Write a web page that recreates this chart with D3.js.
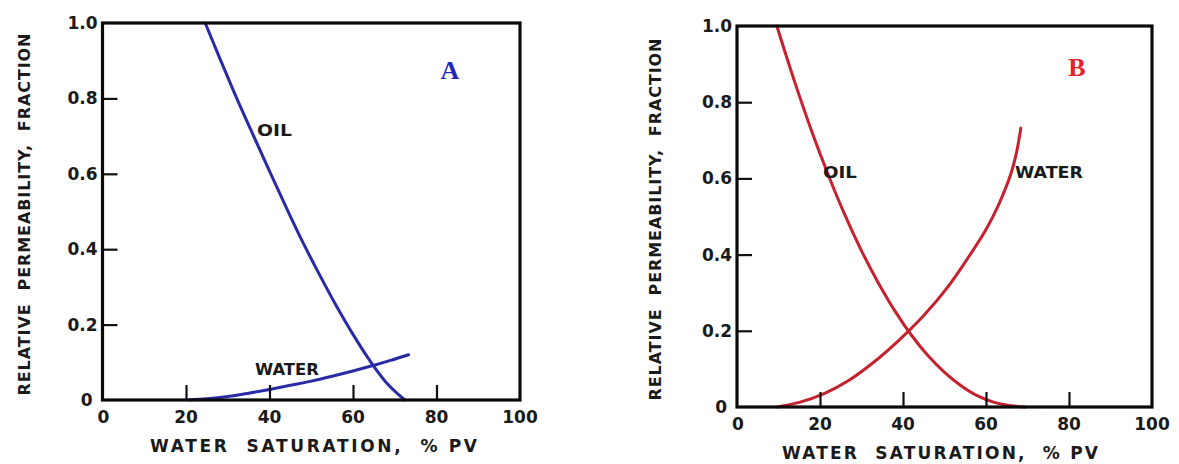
<!DOCTYPE html>
<html>
<head>
<meta charset="utf-8">
<script src="https://cdn.jsdelivr.net/npm/d3@7"></script>
<style>
  html, body { margin: 0; padding: 0; background: #fff; }
  svg { display: block; }
</style>
</head>
<body>
<svg id="chart" width="1179" height="464"></svg>
<script>
// ---------- data ----------
const xTickValues = [0, 20, 40, 60, 80, 100];
const xTickLabels = ["0", "20", "40", "60", "80", "100"];
const yTickValues = [0, 0.2, 0.4, 0.6, 0.8, 1.0];
const yTickLabels = ["0", "0.2", "0.4", "0.6", "0.8", "1.0"];

const xTitle = "WATER  SATURATION,  % PV";
const yTitle = "RELATIVE  PERMEABILITY,  FRACTION";

// Panel A (blue)
const oilA_sw = [24.6, 28, 32, 36, 40, 44, 48, 52, 56, 60, 64, 68, 72.4];
const oilA_kr = [1.0, 0.909, 0.804, 0.705, 0.607, 0.511, 0.418, 0.332, 0.250, 0.174, 0.105, 0.046, 0.0];
const waterA_sw = [20.7, 25, 30, 35, 40, 45, 50, 55, 60, 65, 69, 73.3];
const waterA_kr = [0.0, 0.003, 0.009, 0.018, 0.028, 0.039, 0.050, 0.063, 0.077, 0.092, 0.105, 0.120];

// Panel B (red)
const oilB_sw = [9.6, 14, 18, 22, 26, 30, 34, 38, 42, 46, 50, 54, 58, 62, 66, 69.5];
const oilB_kr = [1.0, 0.850, 0.724, 0.609, 0.504, 0.410, 0.327, 0.253, 0.189, 0.135, 0.091, 0.056, 0.029, 0.012, 0.003, 0.0];
const waterB_sw = [9.6, 15, 21, 27, 33, 39, 45, 51, 56, 60, 63, 66, 67.3, 68.4];
const waterB_kr = [0.0, 0.012, 0.035, 0.070, 0.118, 0.175, 0.240, 0.318, 0.397, 0.466, 0.530, 0.612, 0.665, 0.732];

// ---------- drawing ----------
const svg = d3.select("#chart");
const FONT = "'DejaVu Sans', 'Liberation Sans', sans-serif";

const panels = [
  {
    letter: "A", letterColor: "#2323c0", lineColor: "#2a2aa6",
    frame: { x0: 102.5, x1: 520, y0: 23, y1: 400 },
    letterPos: [450, 70],
    series: [
      { sw: oilA_sw, kr: oilA_kr, label: "OIL", lx: 257, ly: 131, lw: 35 },
      { sw: waterA_sw, kr: waterA_kr, label: "WATER", lx: 255, ly: 370, lw: 64 }
    ],
    yTitleX: 24, xTitleY: 446, xTitleSpan: [150, 477]
  },
  {
    letter: "B", letterColor: "#e0242a", lineColor: "#c4222f",
    frame: { x0: 737, x1: 1152, y0: 26, y1: 407 },
    letterPos: [1077, 67],
    series: [
      { sw: oilB_sw, kr: oilB_kr, label: "OIL", lx: 823, ly: 173, lw: 34 },
      { sw: waterB_sw, kr: waterB_kr, label: "WATER", lx: 1015, ly: 173, lw: 68 }
    ],
    yTitleX: 655, xTitleY: 453, xTitleSpan: [782, 1098]
  }
];

panels.forEach(p => {
  const f = p.frame;
  const x = d3.scaleLinear().domain([0, 100]).range([f.x0, f.x1]);
  const y = d3.scaleLinear().domain([0, 1]).range([f.y1, f.y0]);
  const g = svg.append("g");

  // curves
  const line = d3.line()
    .x(d => x(d[0])).y(d => y(d[1]))
    .curve(d3.curveCatmullRom.alpha(0.5));
  p.series.forEach(s => {
    const pts = s.sw.map((v, i) => [v, s.kr[i]]);
    g.append("path")
      .attr("d", line(pts))
      .attr("fill", "none")
      .attr("stroke", p.lineColor)
      .attr("stroke-width", 3)
      .attr("stroke-linecap", "round");
  });

  // inner tick marks (y: pointing right, x: pointing up)
  const yAxis = d3.axisRight(y).tickValues(yTickValues.filter(v => v > 0 && v < 1))
    .tickSize(15).tickFormat("");
  const ya = g.append("g").attr("transform", `translate(${f.x0},0)`).call(yAxis);
  ya.select(".domain").remove();
  ya.selectAll("line").attr("stroke", "#111").attr("stroke-width", 2.2);

  const xAxis = d3.axisTop(x).tickValues(xTickValues.filter(v => v > 0 && v < 100))
    .tickSize(15).tickFormat("");
  const xa = g.append("g").attr("transform", `translate(0,${f.y1})`).call(xAxis);
  xa.select(".domain").remove();
  xa.selectAll("line").attr("stroke", "#111").attr("stroke-width", 2.2);

  // frame
  g.append("rect")
    .attr("x", f.x0).attr("y", f.y0)
    .attr("width", f.x1 - f.x0).attr("height", f.y1 - f.y0)
    .attr("fill", "none").attr("stroke", "#0a0a0a").attr("stroke-width", 3.2);

  // tick labels
  const lab = { "font-family": FONT, "font-size": 17, "font-weight": "bold", fill: "#1a1a1a" };
  xTickValues.forEach((v, i) => {
    const t = g.append("text").text(xTickLabels[i])
      .attr("x", v === 0 ? x(v) + 1 : x(v))
      .attr("y", f.y1 + 17)
      .attr("text-anchor", "middle")
      .attr("dominant-baseline", "central");
    Object.entries(lab).forEach(([k, val]) => t.attr(k, val));
  });
  yTickValues.forEach((v, i) => {
    const t = g.append("text").text(yTickLabels[i])
      .attr("x", v === 0 ? f.x0 - 10 : f.x0 - 5)
      .attr("y", y(v))
      .attr("text-anchor", "end")
      .attr("dominant-baseline", "central");
    Object.entries(lab).forEach(([k, val]) => t.attr(k, val));
  });

  // axis titles
  g.append("text").text(xTitle)
    .attr("x", p.xTitleSpan[0]).attr("y", p.xTitleY)
    .attr("dominant-baseline", "central")
    .attr("textLength", p.xTitleSpan[1] - p.xTitleSpan[0])
    .attr("lengthAdjust", "spacing")
    .attr("font-family", FONT).attr("font-size", 17).attr("font-weight", "bold")
    .attr("fill", "#1a1a1a").style("white-space", "pre");

  g.append("text").text(yTitle)
    .attr("transform", `translate(${p.yTitleX},${(f.y0 + f.y1) / 2 + 3}) rotate(-90)`)
    .attr("text-anchor", "middle")
    .attr("dominant-baseline", "central")
    .attr("textLength", 362)
    .attr("lengthAdjust", "spacing")
    .attr("font-family", FONT).attr("font-size", 16).attr("font-weight", "bold")
    .attr("fill", "#1a1a1a").style("white-space", "pre");

  // curve labels
  p.series.forEach(s => {
    g.append("text").text(s.label)
      .attr("x", s.lx).attr("y", s.ly)
      .attr("dominant-baseline", "central")
      .attr("textLength", s.lw)
      .attr("lengthAdjust", "spacingAndGlyphs")
      .attr("font-family", FONT).attr("font-size", 15).attr("font-weight", "bold")
      .attr("fill", "#1a1a1a");
  });

  // panel letter
  g.append("text").text(p.letter)
    .attr("x", p.letterPos[0]).attr("y", p.letterPos[1])
    .attr("text-anchor", "middle")
    .attr("dominant-baseline", "central")
    .attr("font-family", "'Liberation Serif', 'DejaVu Serif', serif")
    .attr("font-size", 26).attr("font-weight", "bold")
    .attr("fill", p.letterColor);
});
</script>
</body>
</html>
